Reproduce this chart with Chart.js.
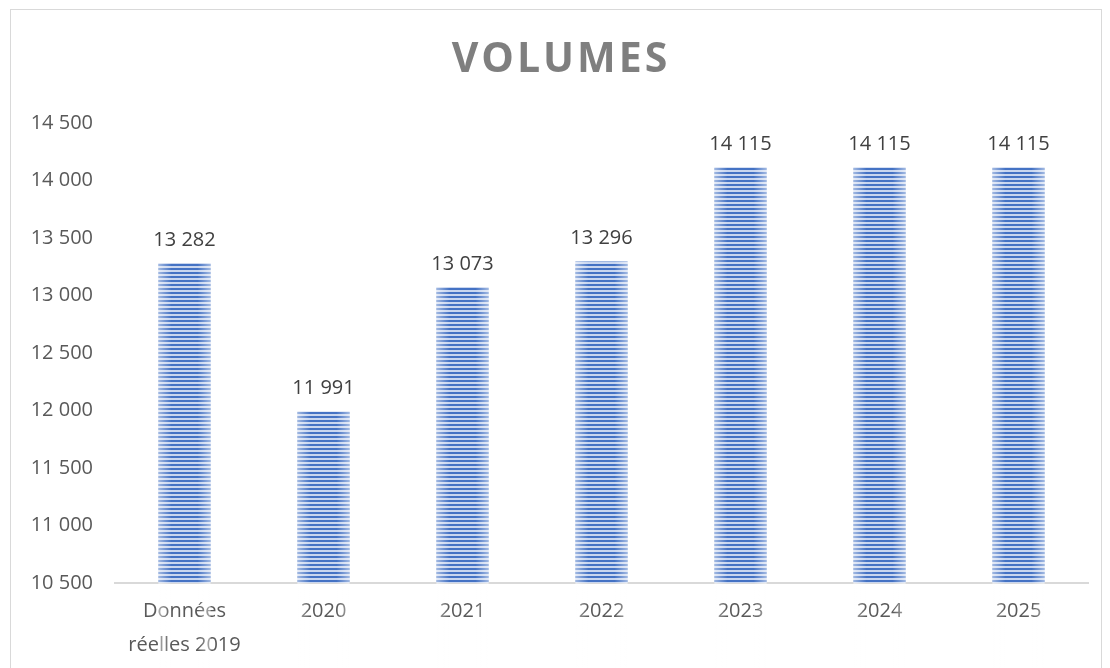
<!DOCTYPE html>
<html>
<head>
<meta charset="utf-8">
<script src="https://cdn.jsdelivr.net/npm/chart.js@4/dist/chart.umd.min.js"></script>
<style>
  html, body { margin: 0; padding: 0; background: #fff; }
  #frame { position: absolute; left: 10px; top: 9px; width: 1090px; height: 700px; border: 1px solid #d9d9d9; }
  #wrap { position: absolute; left: 0; top: 0; width: 1110px; height: 668px; }
</style>
</head>
<body>
<div id="frame"></div>
<div id="wrap"><canvas id="chart"></canvas></div>
<script>
// ─── Données ────────────────────────────────────────────────────────────────
const categories = [['Données', 'réelles 2019'], '2020', '2021', '2022', '2023', '2024', '2025'];
const volumes = [13282, 11991, 13073, 13296, 14115, 14115, 14115];
const yMin = 10500;
const yMax = 14500;
const yStep = 500;
const titleText = 'VOLUMES';

const FONT = '"Open Sans", sans-serif';

// espace comme séparateur de milliers
function fmt(v) {
  return String(Math.round(v)).replace(/\B(?=(\d{3})+(?!\d))/g, ' ');
}

// ─── Motif rayé des barres ──────────────────────────────────────────────────
function stripePattern(ctx) {
  const c = document.createElement('canvas');
  c.width = 8; c.height = 4;
  const p = c.getContext('2d');
  p.fillStyle = '#c9d6ef';
  p.fillRect(0, 0, 8, 4);
  p.fillStyle = '#4472c4';
  p.fillRect(0, 0, 8, 2);
  return ctx.createPattern(c, 'repeat');
}

// titre espacé (letter-spacing) dessiné à la main
const spacedTitle = {
  id: 'spacedTitle',
  afterDraw(chart) {
    const ctx = chart.ctx;
    ctx.save();
    ctx.font = 'bold 41px ' + FONT;
    ctx.letterSpacing = '3px';
    ctx.fillStyle = '#7f7f7f';
    ctx.textAlign = 'center';
    ctx.textBaseline = 'middle';
    ctx.fillText(titleText, chart.width / 2 + 6, 60);
    ctx.restore();
  }
};

// éclaircissement des bords + étiquettes de valeurs
const barDecor = {
  id: 'barDecor',
  afterDatasetsDraw(chart) {
    const ctx = chart.ctx;
    const meta = chart.getDatasetMeta(0);
    meta.data.forEach((bar, i) => {
      const left = bar.x - bar.width / 2;
      const right = bar.x + bar.width / 2;
      const g = ctx.createLinearGradient(left, 0, right, 0);
      g.addColorStop(0, 'rgba(255,255,255,0.5)');
      g.addColorStop(0.25, 'rgba(255,255,255,0)');
      g.addColorStop(0.75, 'rgba(255,255,255,0)');
      g.addColorStop(1, 'rgba(255,255,255,0.5)');
      ctx.save();
      ctx.fillStyle = g;
      ctx.fillRect(left, bar.y, bar.width, bar.base - bar.y);
      ctx.fillStyle = '#404040';
      ctx.font = '20px ' + FONT;
      ctx.textAlign = 'center';
      ctx.textBaseline = 'middle';
      ctx.fillText(fmt(volumes[i]), bar.x, bar.y - 23);
      ctx.restore();
    });
  }
};

const ctx = document.getElementById('chart').getContext('2d');
new Chart(ctx, {
  type: 'bar',
  data: {
    labels: categories,
    datasets: [{
      data: volumes,
      backgroundColor: stripePattern(ctx),
      borderWidth: 0,
      categoryPercentage: 1,
      barPercentage: 0.375,
    }],
  },
  options: {
    responsive: true,
    maintainAspectRatio: false,
    animation: false,
    layout: { padding: { left: 20, right: 22, top: 123, bottom: 0 } },
    plugins: {
      legend: { display: false },
      tooltip: { enabled: false },
      title: { display: false },
    },
    scales: {
      x: {
        grid: { display: false, drawTicks: false },
        border: { display: true, color: '#d9d9d9', width: 2 },
        ticks: {
          color: '#595959',
          font: { family: FONT, size: 20, lineHeight: 1.7 },
          padding: 11,
          maxRotation: 0,
        },
        afterFit: s => { s.height = 85; },
      },
      y: {
        min: yMin,
        max: yMax,
        grid: { display: false, drawTicks: false },
        border: { display: false },
        ticks: {
          stepSize: yStep,
          color: '#595959',
          font: { family: FONT, size: 20 },
          padding: 22,
          callback: v => fmt(v),
        },
        afterFit: s => { s.width = 95; },
      },
    },
  },
  plugins: [barDecor, spacedTitle],
});
</script>
</body>
</html>
